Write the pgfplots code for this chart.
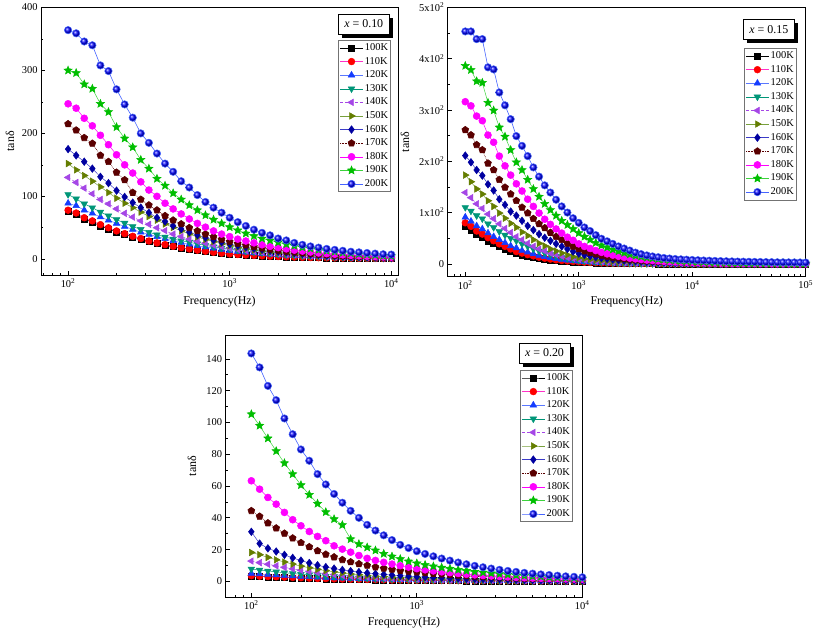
\documentclass[border=0pt]{standalone}
\usepackage{fontspec}
\setmainfont{Liberation Serif}
\usepackage{pgfplots}
\usepackage{pgfplotstable}
\pgfplotsset{compat=1.18}
\usetikzlibrary{plotmarks,shadows}

\definecolor{c100}{RGB}{0,0,0}
\definecolor{c110}{RGB}{255,0,0}
\definecolor{l110}{RGB}{255,50,200}
\definecolor{c120}{RGB}{20,60,255}
\definecolor{l120}{RGB}{90,120,255}
\definecolor{c130}{RGB}{0,150,120}
\definecolor{c140}{RGB}{165,70,230}
\definecolor{c150}{RGB}{100,125,0}
\definecolor{l150}{RGB}{120,160,60}
\definecolor{c160}{RGB}{0,0,160}
\definecolor{l160}{RGB}{60,60,200}
\definecolor{c170}{RGB}{90,0,0}
\definecolor{c180}{RGB}{255,0,255}
\definecolor{c190}{RGB}{0,190,0}
\definecolor{l190}{RGB}{60,210,60}
\definecolor{c200}{RGB}{0,0,255}
\definecolor{l200}{RGB}{70,100,255}

\pgfdeclareplotmark{fstar}{%
  \pgfpathmoveto{\pgfpointpolar{90}{\pgfplotmarksize}}%
  \pgfpathlineto{\pgfpointpolar{126}{0.45\pgfplotmarksize}}%
  \pgfpathlineto{\pgfpointpolar{162}{\pgfplotmarksize}}%
  \pgfpathlineto{\pgfpointpolar{198}{0.45\pgfplotmarksize}}%
  \pgfpathlineto{\pgfpointpolar{234}{\pgfplotmarksize}}%
  \pgfpathlineto{\pgfpointpolar{270}{0.45\pgfplotmarksize}}%
  \pgfpathlineto{\pgfpointpolar{306}{\pgfplotmarksize}}%
  \pgfpathlineto{\pgfpointpolar{342}{0.45\pgfplotmarksize}}%
  \pgfpathlineto{\pgfpointpolar{18}{\pgfplotmarksize}}%
  \pgfpathlineto{\pgfpointpolar{54}{0.45\pgfplotmarksize}}%
  \pgfpathclose
  \pgfusepathqfillstroke}

\tikzset{
  xbox/.style={draw=black, fill=white, line width=0.6bp,
    drop shadow={shadow xshift=3.5bp, shadow yshift=-3.5bp, fill=black, opacity=1},
    minimum width=51bp, minimum height=20bp, inner sep=2bp,
    font=\fontsize{12}{14}\selectfont},
}

\pgfplotsset{
  s100/.style={draw=c100, line width=0.5bp, mark=square*, mark size=3bp, mark options={solid, draw=c100, fill=c100}},
  s110/.style={draw=l110, line width=0.5bp, mark=*, mark size=3.4bp, mark options={solid, draw=c110, fill=c110}},
  s120/.style={draw=l120, line width=0.5bp, mark=triangle*, mark size=3.8bp, mark options={solid, draw=c120, fill=c120}},
  s130/.style={draw=c130, line width=0.5bp, mark=triangle*, mark size=3.8bp, mark options={solid, rotate=180, draw=c130, fill=c130}},
  s140/.style={draw=c140, densely dashed, line width=0.5bp, mark=triangle*, mark size=3.8bp, mark options={solid, rotate=90, draw=c140, fill=c140}},
  s150/.style={draw=l150, line width=0.5bp, mark=triangle*, mark size=3.8bp, mark options={solid, rotate=-90, draw=c150, fill=c150}},
  s160/.style={draw=l160, line width=0.5bp, mark=diamond*, mark size=3.8bp, mark options={solid, draw=c160, fill=c160}},
  s170/.style={draw=c170, densely dotted, line width=0.6bp, mark=pentagon*, mark size=3.6bp, mark options={solid, draw=c170, fill=c170}},
  s180/.style={draw=c180, line width=0.5bp, mark=*, mark size=3.5bp, mark options={solid, draw=c180, fill=c180}},
  s190/.style={draw=l190, line width=0.5bp, mark=fstar, mark size=4.3bp, mark options={solid, draw=c190, fill=c190}},
  s200/.style={draw=l200, line width=0.6bp, mark=ball, mark size=3.7bp, mark options={solid, ball color=c200}},
  myax/.style={
    scale only axis, anchor=south west,
    axis line style={line width=1bp},
    tick align=inside, xtick pos=bottom, ytick pos=left,
    major tick length=4.5bp, minor tick length=2.5bp,
    every tick/.style={black, line width=0.7bp},
    minor y tick num=1,
    tick label style={font=\fontsize{10.5}{12}\selectfont},
    xlabel style={font=\fontsize{12}{14}\selectfont, anchor=center},
    ylabel style={font=\fontsize{12}{14}\selectfont, anchor=center},
    xlabel={Frequency(Hz)}, ylabel={tanδ},
    legend cell align=left,
    legend image code/.code={\draw[mark repeat=2,mark phase=2,##1] plot coordinates {(0bp,0bp) (11.5bp,0bp) (23bp,0bp)};},
    legend style={anchor=north east, draw=black!55, line width=0.6bp, fill=white,
      font=\fontsize{10.5}{12}\selectfont, inner sep=1bp, row sep=0bp,
      nodes={inner xsep=1.5bp, inner ysep=2bp, text height=7.3bp, text depth=2.3bp}},
  },
}

% panel x = 0.10
\pgfplotstableread{
f t100 t110 t120 t130 t140 t150 t160 t170 t180 t190 t200
100 76 78 89 103 130 152 175 215 247 300 364
112.2 71 73.5 85 96 122 142 165 205 240 296 359
125.9 64 66 78 88 113 133 155 193 224 278 346
141.3 59 61 73 82 104 124 144 184 212 271 340
158.5 53 55 67 75 95 115 131 165 197 247 308
177.8 48 50 62 69 88 106 121 155 182 234 299
199.5 43.5 45 57 63 80 97 109 138 166 210 270
223.9 39.5 40.7 52 57.5 73 89 99 126 150 192 246
251.2 35.5 36.5 47.5 52 67 82 90 106 137 178 225
281.8 32 33 43 47.5 61 75 82 95 123 158 200
316.2 28.5 29 39.5 43 55.5 68 74 86 110 144 185
354.8 25.5 26 36 39 50 62 66 78 100 128 168
398.1 22.5 23.3 32.5 35.5 45.5 56 60 69 89 117 152
446.7 20 20.6 29.5 32 40 50.5 53 62 80 105 139
501.2 18 18.5 26.5 29.5 36 45 48 56 72 95 124
562.3 16 16.4 24 27 32 40 43 50 64 86 114
631.0 14 14.5 21.5 24.5 28.5 35.5 38.5 45 57 78 102
707.9 12.3 12.8 19.5 22 25.5 31.5 34.5 40 51 70 91
794.3 10.8 11.2 17.5 19.8 22.5 28 30.5 35.5 45 63 82
891.3 9.3 9.8 15.5 17.8 20 24.5 27 31.5 40 57 74
1000 8 8.5 14 16 17.5 21.5 24 28 36 51 66
1122 7.2 7.6 12.5 14.3 15.5 18.6 21.5 25 32 46 59
1259 6.5 6.8 11.2 12.8 13.8 16.5 19.2 22.3 29 41 53
1413 5.8 6.1 10 11.5 12.3 14.6 17.2 19.9 26 37 47
1585 5.2 5.4 9 10.3 11 12.9 15.3 17.7 23 33 42
1778 4.7 4.8 8 9.2 9.8 11.4 13.6 15.8 20.5 30 38
1995 4.2 4.3 7.2 8.2 8.7 10.1 12.1 14.1 18.5 27 33
2239 3.8 3.9 6.4 7.3 7.8 9 10.8 12.5 16.5 24 30
2512 3.4 3.5 5.7 6.5 7 8 9.6 11.1 14.5 21.5 26
2818 3.1 3.1 5.1 5.8 6.2 7.1 8.5 9.9 13 19 23
3162 2.8 2.8 4.6 5.2 5.5 6.3 7.6 8.8 11.5 17 20.5
3548 2.5 2.5 4.1 4.6 4.9 5.6 6.8 7.8 10 15 18.5
3981 2.3 2.3 3.7 4.1 4.4 5 6 6.9 9 13.5 16.5
4467 2.1 2.1 3.3 3.7 3.9 4.4 5.3 6.1 8 12 15
5012 1.9 1.9 3 3.3 3.5 3.9 4.7 5.4 7 10.5 13.5
5623 1.7 1.7 2.7 3 3.1 3.5 4.2 4.8 6.2 9.5 12
6310 1.5 1.5 2.4 2.7 2.8 3.1 3.8 4.3 5.5 8.5 11
7079 1.4 1.4 2.2 2.4 2.5 2.8 3.4 3.8 4.8 7.5 10
7943 1.3 1.3 2 2.2 2.2 2.5 3 3.4 4.2 6.5 9
8913 1.2 1.2 1.8 2 2 2.2 2.7 3 3.7 5.5 8
10000 1.1 1.1 1.6 1.8 1.8 2 2.4 2.7 3.3 5 7.5
}\tabA

% panel x = 0.15
\pgfplotstableread{
f t100 t110 t120 t130 t140 t150 t160 t170 t180 t190 t200
100 73 80 91 110 139 173 211 261 316 386 453
112.2 66 73 83 103 129 160 198 251 308 378 453
125.9 58 64 74 94 117 146 183 232 288 356 438
141.3 52 58 68 88 108 136 172 222 279 353 438
158.5 45 51 60 78 97 123 155 196 251 314 383
177.8 40 45 53 71 88 112 143 183 237 299 379
199.5 34 39 47 63 78 99 126 164 210 266 334
223.9 29 34 41 56 69 89 115 149 191 248 309
251.2 25 29 35 50 61 79 102 136 173 222 282
281.8 21 24 31 45 53 71 94 123 156 198 249
316.2 17.5 21 26 39 47 62 84 110 142 183 230
354.8 15 18 22.5 34 40 55 74 99 126 164 210
398.1 12.5 15.5 19.5 29 34 47 66 88 112 146 188
446.7 10.5 13 16.5 25 29 40 58 78 99 131 170
501.2 9 11 14 21 25 35 51 70 87 117 153
562.3 7.5 9.3 12 18 21 29 45 61 77 105 139
631.0 6.3 7.8 10 15 18 25 39 53 68 94 125
707.9 5.3 6.6 8.5 12.5 15 21 34 47 60 84 112
794.3 4.5 5.6 7 10.5 12.5 17.5 29 40 52 76 100
891.3 3.8 4.7 6 8.5 10.5 14 24 34 46 68 89
1000 3.2 4 5 7 8.8 12 20 29 39 60 80
1122 2.7 3.3 4.2 5.8 7.4 10 17.5 25 34 53 71
1259 2.3 2.8 3.5 4.8 6.2 8.5 15 22 30 47 64
1413 1.9 2.3 2.9 4 5.2 7.2 13 19 26 41 56
1585 1.6 1.9 2.4 3.3 4.4 6.2 11.3 16.5 22.5 36 49
1778 1.3 1.6 2 2.7 3.7 5.3 9.8 14.5 19.5 32 44
1995 1.1 1.3 1.7 2.2 3.1 4.6 8.5 12.5 17 28 39
2239 0.9 1.1 1.4 1.8 2.6 4 7.4 11 14.8 24.5 34
2512 0.8 0.9 1.2 1.5 2.2 3.5 6.5 9.5 12.8 21.5 30
2818 0.7 0.8 1 1.2 1.9 3 5.7 8.5 11.1 18.5 26
3162 0.6 0.7 0.8 1 1.6 2.6 5 7.5 9.7 16 22
3548 0.5 0.6 0.7 0.8 1.4 2.3 4.4 6.7 8.5 14 19
3981 0.4 0.5 0.6 0.7 1.2 2 3.9 6 7.4 12.2 16.5
4467 0.3 0.4 0.5 0.6 1 1.8 3.5 5.4 6.5 10.7 14.5
5012 0.2 0.3 0.4 0.5 0.9 1.6 3.1 4.9 5.7 9.4 13
5623 0.1 0.2 0.3 0.4 0.8 1.4 2.8 4.4 5 8.3 11.5
6310 0 0.1 0.2 0.3 0.7 1.2 2.5 4 4.4 7.4 10.5
7079 -0.1 0 0.1 0.2 0.6 1.1 2.2 3.6 3.9 6.6 9.5
7943 -0.2 -0.1 0 0.1 0.5 1 2 3.3 3.5 5.9 8.8
8913 -0.3 -0.2 -0.1 0 0.4 0.9 1.8 3 3.1 5.3 8.2
10000 -0.4 -0.3 -0.2 -0.1 0.3 0.8 1.6 2.7 2.8 4.8 7.6
11220 -0.5 -0.4 -0.3 -0.2 0.2 0.7 1.4 2.4 2.5 4.3 7.1
12589 -0.5 -0.4 -0.3 -0.2 0.2 0.6 1.3 2.2 2.2 3.9 6.6
14125 -0.5 -0.4 -0.3 -0.2 0.1 0.5 1.2 2 2 3.5 6.2
15849 -0.5 -0.4 -0.3 -0.2 0.1 0.45 1.1 1.8 1.8 3.2 5.8
17783 -0.5 -0.4 -0.3 -0.2 0.1 0.4 1 1.6 1.6 2.9 5.4
19953 -0.5 -0.4 -0.3 -0.2 0 0.35 0.9 1.4 1.4 2.6 5.1
22387 -0.5 -0.4 -0.3 -0.2 0 0.3 0.8 1.3 1.3 2.4 4.8
25119 -0.5 -0.4 -0.3 -0.2 0 0.25 0.7 1.2 1.2 2.2 4.5
28184 -0.5 -0.4 -0.3 -0.2 0 0.2 0.6 1.1 1.1 2 4.3
31623 -0.5 -0.4 -0.3 -0.2 0 0.15 0.5 1 1 1.8 4.1
35481 -0.5 -0.4 -0.3 -0.2 0 0.1 0.45 0.9 0.9 1.7 3.9
39811 -0.5 -0.4 -0.3 -0.2 0 0.1 0.4 0.8 0.8 1.6 3.7
44668 -0.5 -0.4 -0.3 -0.2 0 0.1 0.35 0.7 0.7 1.5 3.5
50119 -0.5 -0.4 -0.3 -0.2 0 0.05 0.3 0.6 0.6 1.4 3.3
56234 -0.5 -0.4 -0.3 -0.2 0 0.05 0.25 0.5 0.5 1.3 3.1
63096 -0.5 -0.4 -0.3 -0.2 0 0 0.2 0.4 0.4 1.2 3
70795 -0.5 -0.4 -0.3 -0.2 0 0 0.15 0.3 0.3 1.1 2.9
79433 -0.5 -0.4 -0.3 -0.2 0 0 0.1 0.2 0.2 1 2.8
89125 -0.5 -0.4 -0.3 -0.2 0 0 0.05 0.1 0.1 0.9 2.7
100000 -0.5 -0.4 -0.3 -0.2 0 0 0 0 0.1 0.8 2.6
}\tabB

% panel x = 0.20
\pgfplotstableread{
f t100 t110 t120 t130 t140 t150 t160 t170 t180 t190 t200
100 3.3 3.6 5 7.8 12.8 18.2 31.2 44.4 63.3 105.2 143.4
112.2 3.1 3.3 4.6 7.2 11.8 16.8 23.8 40.9 58 98 134.6
125.9 2.9 3.1 4.3 6.6 10.8 15.1 20.8 36.7 52.8 90 123
141.3 2.7 2.9 4 6 9.8 13.6 18.8 33.5 48.6 82 114
158.5 2.5 2.7 3.7 5.5 8.8 12.2 16.7 30.2 43.4 74.4 102.5
177.8 2.3 2.5 3.4 5 7.9 10.9 14.8 27.2 38.8 67.5 92.6
199.5 2.1 2.3 3.1 4.5 7 9.6 13.1 24.3 35 60.6 83
223.9 1.9 2.1 2.9 4.1 6.2 8.6 11.6 21.7 31.4 54.5 75.9
251.2 1.8 1.9 2.6 3.7 5.5 7.6 10.2 19.2 28.3 48.9 67.5
281.8 1.6 1.8 2.4 3.3 4.9 6.8 9 17 25.6 43.6 61
316.2 1.5 1.6 2.2 3 4.3 6 8.1 15.3 22.4 39.2 55
354.8 1.4 1.5 2 2.7 3.8 5.3 7.2 13.6 20.3 35.5 49.5
398.1 1.3 1.4 1.8 2.4 3.4 4.7 6.5 12.2 18.4 26.6 44.4
446.7 1.2 1.3 1.65 2.2 3 4.2 5.9 11 16.3 23.5 40
501.2 1.1 1.2 1.5 2 2.7 3.7 5.3 10 14.5 21.4 35.6
562.3 1 1.1 1.4 1.8 2.4 3.3 4.8 9 13.2 19.5 32
631.0 0.9 1 1.3 1.6 2.1 3 4.4 8.2 12 17.4 29
707.9 0.85 0.9 1.2 1.45 1.9 2.7 4 7.5 10.9 15.7 26
794.3 0.8 0.85 1.1 1.3 1.7 2.4 3.6 6.8 9.9 14.1 23
891.3 0.75 0.8 1 1.2 1.5 2.2 3.3 6.3 9 12.6 21
1000 0.7 0.75 0.9 1.1 1.4 2 3 5.8 8 11.4 19
1122 0.65 0.7 0.85 1 1.3 1.8 2.7 5.3 7.3 10.4 17.3
1259 0.6 0.65 0.8 0.9 1.2 1.6 2.5 4.9 6.6 9.5 15.8
1413 0.55 0.6 0.75 0.85 1.1 1.5 2.3 4.5 6 8.7 14.4
1585 0.5 0.55 0.7 0.8 1 1.4 2.1 4.1 5.5 8 13.1
1778 0.45 0.5 0.65 0.75 0.9 1.3 1.9 3.8 5 7.3 11.9
1995 0.4 0.45 0.6 0.7 0.85 1.2 1.7 3.5 4.5 6.7 10.8
2239 0.38 0.42 0.55 0.65 0.8 1.1 1.6 3.2 4.1 6.1 9.8
2512 0.36 0.39 0.5 0.6 0.75 1 1.5 3 3.7 5.6 8.9
2818 0.34 0.36 0.46 0.55 0.7 0.9 1.4 2.8 3.4 5.1 8.1
3162 0.32 0.33 0.42 0.5 0.65 0.8 1.3 2.6 3.1 4.7 7.3
3548 0.3 0.3 0.39 0.46 0.6 0.75 1.2 2.3 2.8 4.3 6.6
3981 0.28 0.28 0.36 0.42 0.55 0.7 1.1 2.1 2.5 3.9 6
4467 0.26 0.26 0.33 0.39 0.5 0.65 1 1.9 2.3 3.6 5.4
5012 0.24 0.24 0.3 0.36 0.45 0.6 0.9 1.8 2.1 3.3 4.9
5623 0.22 0.22 0.28 0.33 0.4 0.55 0.85 1.7 1.95 3 4.4
6310 0.2 0.2 0.26 0.3 0.38 0.5 0.8 1.6 1.8 2.7 4
7079 0.18 0.18 0.24 0.28 0.36 0.45 0.75 1.5 1.7 2.5 3.6
7943 0.16 0.16 0.22 0.26 0.34 0.4 0.7 1.4 1.6 2.3 3.2
8913 0.14 0.14 0.2 0.24 0.32 0.35 0.65 1.3 1.5 2.1 2.9
10000 0.12 0.12 0.18 0.22 0.3 0.3 0.6 1.2 1.4 1.9 2.6
}\tabC

\begin{document}
\begin{tikzpicture}
\path[use as bounding box] (0bp,0bp) rectangle (813bp,-631bp);

% ---------- x = 0.10 ----------
\begin{semilogxaxis}[myax, at={(41bp,-275bp)}, width=357bp, height=267.5bp,
  xmin=68, xmax=11000, ymin=-25, ymax=400,
  xtick={100,1000,10000},
  xticklabels={10\textsuperscript{2},10\textsuperscript{3},10\textsuperscript{4}},
  minor xtick={70,80,90,200,300,400,500,600,700,800,900,2000,3000,4000,5000,6000,7000,8000,9000},
  ytick={0,100,200,300,400}, yticklabels={0,100,200,300,400},
  xlabel style={at={(axis description cs:0.5,-0.0998)}},
  ylabel style={at={(axis description cs:-0.087,0.5)}},
  legend style={at={(0.98,0.879)}}]
\addplot[s100] table[x=f,y=t100]{\tabA};
\addplot[s110] table[x=f,y=t110]{\tabA};
\addplot[s120] table[x=f,y=t120]{\tabA};
\addplot[s130] table[x=f,y=t130]{\tabA};
\addplot[s140] table[x=f,y=t140]{\tabA};
\addplot[s150] table[x=f,y=t150]{\tabA};
\addplot[s160] table[x=f,y=t160]{\tabA};
\addplot[s170] table[x=f,y=t170]{\tabA};
\addplot[s180] table[x=f,y=t180]{\tabA};
\addplot[s190] table[x=f,y=t190]{\tabA};
\addplot[s200] table[x=f,y=t200]{\tabA};
\legend{100K,110K,120K,130K,140K,150K,160K,170K,180K,190K,200K}
\node[xbox] at (axis description cs:0.904,0.938) {\textit{x} = 0.10};
\end{semilogxaxis}

% ---------- x = 0.15 ----------
\begin{semilogxaxis}[myax, at={(447.7bp,-276.7bp)}, width=358bp, height=269.4bp,
  xmin=70, xmax=100000, ymin=-25, ymax=500,
  xtick={100,1000,10000,100000},
  xticklabels={10\textsuperscript{2},10\textsuperscript{3},10\textsuperscript{4},10\textsuperscript{5}},
  minor xtick={70,80,90,200,300,400,500,600,700,800,900,2000,3000,4000,5000,6000,7000,8000,9000,20000,30000,40000,50000,60000,70000,80000,90000},
  ytick={0,100,200,300,400,500},
  yticklabels={0,1x10\textsuperscript{2},2x10\textsuperscript{2},3x10\textsuperscript{2},4x10\textsuperscript{2},5x10\textsuperscript{2}},
  xlabel style={at={(axis description cs:0.5,-0.092)}},
  ylabel style={at={(axis description cs:-0.119,0.5)}},
  legend style={at={(0.975,0.849)}}]
\addplot[s100] table[x=f,y=t100]{\tabB};
\addplot[s110] table[x=f,y=t110]{\tabB};
\addplot[s120] table[x=f,y=t120]{\tabB};
\addplot[s130] table[x=f,y=t130]{\tabB};
\addplot[s140] table[x=f,y=t140]{\tabB};
\addplot[s150] table[x=f,y=t150]{\tabB};
\addplot[s160] table[x=f,y=t160]{\tabB};
\addplot[s170] table[x=f,y=t170]{\tabB};
\addplot[s180] table[x=f,y=t180]{\tabB};
\addplot[s190] table[x=f,y=t190]{\tabB};
\addplot[s200] table[x=f,y=t200]{\tabB};
\legend{100K,110K,120K,130K,140K,150K,160K,170K,180K,190K,200K}
\node[xbox] at (axis description cs:0.897,0.917) {\textit{x} = 0.15};
\end{semilogxaxis}

% ---------- x = 0.20 ----------
\begin{semilogxaxis}[myax, at={(225.7bp,-597.3bp)}, width=356.6bp, height=262.3bp,
  xmin=70, xmax=10000, ymin=-10, ymax=155,
  xtick={100,1000,10000},
  xticklabels={10\textsuperscript{2},10\textsuperscript{3},10\textsuperscript{4}},
  minor xtick={70,80,90,200,300,400,500,600,700,800,900,2000,3000,4000,5000,6000,7000,8000,9000},
  ytick={0,20,40,60,80,100,120,140}, yticklabels={0,20,40,60,80,100,120,140},
  xlabel style={at={(axis description cs:0.5,-0.098)}},
  ylabel style={at={(axis description cs:-0.0945,0.5)}},
  legend style={at={(0.973,0.867)}}]
\addplot[s100] table[x=f,y=t100]{\tabC};
\addplot[s110] table[x=f,y=t110]{\tabC};
\addplot[s120] table[x=f,y=t120]{\tabC};
\addplot[s130] table[x=f,y=t130]{\tabC};
\addplot[s140] table[x=f,y=t140]{\tabC};
\addplot[s150] table[x=f,y=t150]{\tabC};
\addplot[s160] table[x=f,y=t160]{\tabC};
\addplot[s170] table[x=f,y=t170]{\tabC};
\addplot[s180] table[x=f,y=t180]{\tabC};
\addplot[s190] table[x=f,y=t190]{\tabC};
\addplot[s200] table[x=f,y=t200]{\tabC};
\legend{100K,110K,120K,130K,140K,150K,160K,170K,180K,190K,200K}
\node[xbox] at (axis description cs:0.894,0.931) {\textit{x} = 0.20};
\end{semilogxaxis}
\end{tikzpicture}
\end{document}
